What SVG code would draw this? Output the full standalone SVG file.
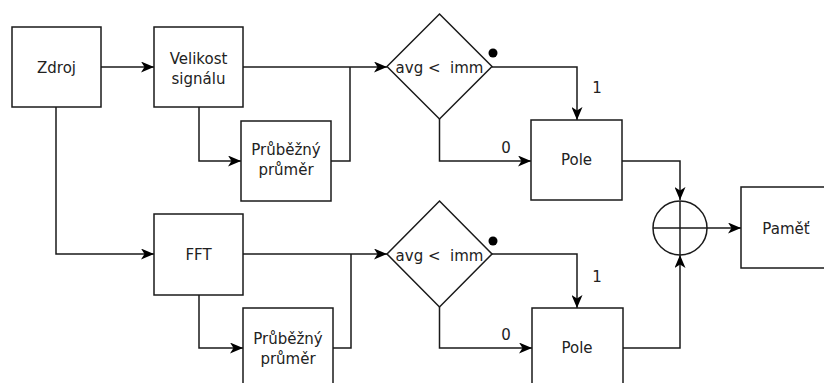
<svg xmlns="http://www.w3.org/2000/svg" width="824" height="383" viewBox="0 0 824 383">
<style>
.box{fill:#fff;stroke:#1a1a1a;stroke-width:1.5}
.t{font-family:"DejaVu Sans",sans-serif;font-size:15px;fill:#222;text-anchor:middle}
.lbl{font-family:"DejaVu Sans",sans-serif;font-size:15px;fill:#222;text-anchor:middle}
.c{fill:none;stroke:#1a1a1a;stroke-width:1.5}
</style>
<defs>
<marker id="arr" markerUnits="userSpaceOnUse" markerWidth="13" markerHeight="11" refX="13" refY="5.5" orient="auto">
<path d="M0,0 L13,5.5 L0,11 L3.5,5.5 z" fill="#000"/>
</marker>
</defs>
<rect width="824" height="383" fill="#fff"/>
<g id="connectors">
<path class="c" d="M101,67 H154" marker-end="url(#arr)"/>
<path class="c" d="M56,107 V254 H154" marker-end="url(#arr)"/>
<path class="c" d="M199,107 V161 H241" marker-end="url(#arr)"/>
<path class="c" d="M243,67 H387" marker-end="url(#arr)"/>
<path class="c" d="M331,161 H350 V67"/>
<path class="c" d="M492,67 H577 V120" marker-end="url(#arr)"/>
<path class="c" d="M439.5,119 V161 H531" marker-end="url(#arr)"/>
<path class="c" d="M622,161 H680 V200" marker-end="url(#arr)"/>
<path class="c" d="M707,228 H741" marker-end="url(#arr)"/>
<path class="c" d="M243,254 H387" marker-end="url(#arr)"/>
<path class="c" d="M199,295 V348 H243" marker-end="url(#arr)"/>
<path class="c" d="M333,348 H351 V254"/>
<path class="c" d="M492,254 H577 V308" marker-end="url(#arr)"/>
<path class="c" d="M439.5,307 V348 H532" marker-end="url(#arr)"/>
<path class="c" d="M623,348 H680 V255" marker-end="url(#arr)"/>
<text class="lbl" x="597" y="93">1</text>
<text class="lbl" x="506" y="153">0</text>
<text class="lbl" x="597" y="281.5">1</text>
<text class="lbl" x="506" y="340">0</text>
</g>
<g id="zdroj">
<rect class="box" x="12" y="27" width="89" height="80"/>
<text class="t" x="56.5" y="72.5">Zdroj</text>
</g>
<g id="velikost">
<rect class="box" x="154" y="27" width="89" height="80"/>
<text class="t" x="198.5" y="64">Velikost</text>
<text class="t" x="198.5" y="83.5">signálu</text>
</g>
<g id="prumer1">
<rect class="box" x="241" y="121" width="90" height="80"/>
<text class="t" x="286" y="155">Průběžný</text>
<text class="t" x="286" y="175">průměr</text>
</g>
<g id="cmp1">
<polygon class="box" points="439.5,14 492,66.5 439.5,119 387,66.5"/>
<circle cx="493" cy="53" r="4.5" fill="#000"/>
<text class="t" x="439.5" y="72.5">avg &lt;&#160; imm</text>
</g>
<g id="pole1">
<rect class="box" x="531" y="120" width="91" height="80"/>
<text class="t" x="576.5" y="165">Pole</text>
</g>
<g id="fft">
<rect class="box" x="154" y="214" width="89" height="81"/>
<text class="t" x="198.5" y="260">FFT</text>
</g>
<g id="prumer2">
<rect class="box" x="243" y="308" width="90" height="80"/>
<text class="t" x="288" y="344">Průběžný</text>
<text class="t" x="288" y="363.5">průměr</text>
</g>
<g id="cmp2">
<polygon class="box" points="439.5,201 492,254 439.5,307 387,254"/>
<circle cx="493" cy="241" r="4.5" fill="#000"/>
<text class="t" x="439.5" y="261">avg &lt;&#160; imm</text>
</g>
<g id="pole2">
<rect class="box" x="532" y="308" width="91" height="80"/>
<text class="t" x="577" y="352.5">Pole</text>
</g>
<g id="sum">
<circle class="c" cx="680" cy="228" r="27"/>
<line class="c" x1="653" y1="228" x2="707" y2="228"/>
<line class="c" x1="680" y1="201" x2="680" y2="255"/>
</g>
<g id="pamet">
<rect class="box" x="741" y="187" width="90" height="81"/>
<text class="t" x="786" y="234">Paměť</text>
</g>
</svg>
